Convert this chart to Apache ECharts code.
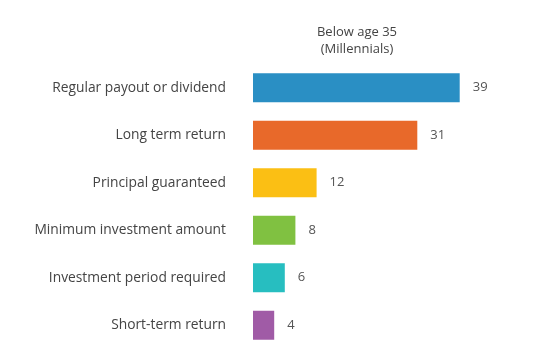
<!DOCTYPE html>
<html><head><meta charset="utf-8">
<script src="https://cdn.jsdelivr.net/npm/echarts@6/dist/echarts.min.js"></script>
<style>html,body{margin:0;padding:0;background:#fff}#c{width:558px;height:362px}</style>
</head><body><div id="c"></div>
<script>
const categories = ["Regular payout or dividend","Long term return","Principal guaranteed","Minimum investment amount","Investment period required","Short-term return"];
const values = [39,31,12,8,6,4];
const colors = ["#2a8fc4","#e8692a","#fbbf14","#80c141","#27bec0","#a05ba6"];
const seriesTitle = "Below age 35\n(Millennials)";

const chart = echarts.init(document.getElementById('c'));
chart.setOption({
  animation:false,
  title:{text:seriesTitle,left:352,top:19,textAlign:'center',
    textStyle:{fontFamily:'Open Sans',fontSize:13,fontWeight:'normal',color:'#444',lineHeight:17}},
  grid:{left:253,right:40,top:64,bottom:13,containLabel:false},
  xAxis:{type:'value',min:0,max:50,show:false},
  yAxis:{type:'category',data:categories,inverse:true,
    axisLine:{show:false},axisTick:{show:false},
    axisLabel:{margin:27,fontFamily:'Open Sans',fontSize:13.8,color:'#444'}},
  series:[{type:'bar',barWidth:29,
    data:values.map((v,i)=>({value:v,itemStyle:{color:colors[i]}})),
    label:{show:true,position:'right',distance:13,fontFamily:'Open Sans',fontSize:13,color:'#555'}}]
});
</script></body></html>
